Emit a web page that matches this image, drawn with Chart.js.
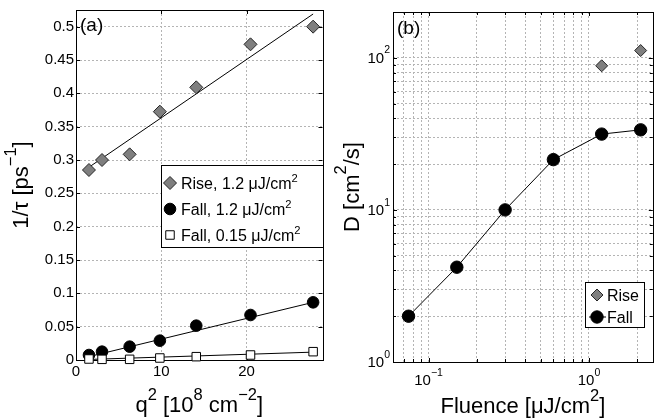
<!DOCTYPE html>
<html>
<head>
<meta charset="utf-8">
<script src="https://cdn.jsdelivr.net/npm/chart.js@4.4.0/dist/chart.umd.min.js"></script>
<style>
  html, body { margin: 0; padding: 0; background: #fff; overflow: hidden; }
  #wrap { position: relative; width: 655px; height: 420px; overflow: hidden; }
  #chartA { position: absolute; left: 0; top: 0; }
  #chartB { position: absolute; left: 330px; top: 0; }
</style>
</head>
<body>
<div id="wrap">
  <canvas id="chartA" width="330" height="420"></canvas>
  <canvas id="chartB" width="330" height="420"></canvas>
</div>
<script>
// panel (a): rates vs q^2
const q2 = [1.52, 3.05, 6.29, 9.83, 14.1, 20.46, 27.8];
const riseRate = [0.285, 0.300, 0.3085, 0.3725, 0.409, 0.4735, 0.500];
const fallRate = [0.0075, 0.0125, 0.020, 0.029, 0.0515, 0.0675, 0.0865];
const fallRateLow = [0.0015, 0.001, 0.001, 0.003, 0.005, 0.0075, 0.0125];
const fitX = [1.5, 27.8];
const riseFitY = [0.289, 0.519];
const fallFitY = [0.005, 0.0865];
const fallLowFitY = [0.0008, 0.0118];
const xTicksA = [0, 10, 20];
const yTicksA = [0, 0.05, 0.1, 0.15, 0.2, 0.25, 0.3, 0.35, 0.4, 0.45, 0.5];

// panel (b): D vs fluence
const fluenceFall = [0.075, 0.15, 0.3, 0.6, 1.2, 2.1];
const diffFall = [2.0, 4.2, 10.0, 21.4, 31.5, 33.6];
const fluenceRise = [1.2, 2.1];
const diffRise = [88.6, 111.6];
const xDecadesB = [0.1, 1];
const xDecadeLabelsB = [['10', '^−1'], ['10', '^0']];
const yDecadesB = [1, 10, 100];
const yDecadeLabelsB = [['10', '^0'], ['10', '^1'], ['10', '^2']];

const FONT = '"Liberation Sans", Arial, Helvetica, sans-serif';
const GRID = '#b4b4b4';

const zip = (xs, ys) => xs.map((x, i) => ({ x, y: ys[i] }));

// log grid: 1..9 within each decade
const logGrid = (decades, lo, hi) => [].concat(...decades.map(d =>
  [1, 2, 3, 4, 5, 6, 7, 8, 9].map(m => +(m * d).toPrecision(3)))).filter(v => v >= lo && v <= hi);

// text with "^" superscript segments
function drawRich(ctx, segs, x, y, size, align, supScale = 0.75, supRise = 0.55) {
  let w = 0;
  segs.forEach(s => {
    const sup = s[0] === '^';
    ctx.font = (sup ? size * supScale : size) + 'px ' + FONT;
    w += ctx.measureText(sup ? s.slice(1) : s).width;
  });
  let cx = align === 'center' ? x - w / 2 : align === 'right' ? x - w : x;
  ctx.textAlign = 'left';
  ctx.textBaseline = 'alphabetic';
  segs.forEach(s => {
    const sup = s[0] === '^';
    const t = sup ? s.slice(1) : s;
    ctx.font = (sup ? size * supScale : size) + 'px ' + FONT;
    ctx.fillText(t, cx, sup ? y - size * supRise : y);
    cx += ctx.measureText(t).width;
  });
}

function drawLegend(chart, box, rows) {
  const ctx = chart.ctx;
  ctx.save();
  ctx.fillStyle = '#fff';
  ctx.fillRect(box.x, box.y, box.w, box.h);
  ctx.strokeStyle = '#000';
  ctx.lineWidth = 1;
  ctx.strokeRect(box.x + 0.5, box.y + 0.5, box.w, box.h);
  rows.forEach(r => {
    const ds = chart.data.datasets[r.ds];
    if (r.line) {
      ctx.beginPath();
      ctx.moveTo(r.line[0], r.y);
      ctx.lineTo(r.line[1], r.y);
      ctx.strokeStyle = '#000';
      ctx.lineWidth = 1;
      ctx.stroke();
    }
    ctx.fillStyle = ds.backgroundColor;
    ctx.strokeStyle = ds.borderColor;
    ctx.lineWidth = ds.borderWidth;
    Chart.helpers.drawPoint(ctx, { pointStyle: ds.pointStyle, radius: ds.pointRadius, borderWidth: ds.borderWidth, rotation: 0 }, box.markX, r.y);
    ctx.fillStyle = '#000';
    drawRich(ctx, r.text, box.textX, r.y + 6, 16, 'left', 0.7, 0.45);
  });
  ctx.restore();
}

// matlab-like box with inward ticks
const frame = {
  id: 'frame',
  beforeDatasetsDraw(chart) {
    const { ctx, chartArea: a, scales } = chart;
    ctx.save();
    ctx.strokeStyle = '#000';
    ctx.lineWidth = 1;
    ctx.beginPath();
    scales.x.ticks.forEach(t => {
      const p = Math.round(scales.x.getPixelForValue(t.value)) + 0.5;
      const len = t.major === false ? 3 : 4;
      ctx.moveTo(p, a.bottom); ctx.lineTo(p, a.bottom - len);
      ctx.moveTo(p, a.top); ctx.lineTo(p, a.top + len);
    });
    scales.y.ticks.forEach(t => {
      const p = Math.round(scales.y.getPixelForValue(t.value)) + 0.5;
      const len = t.major === false ? 3 : 4;
      ctx.moveTo(a.left, p); ctx.lineTo(a.left + len, p);
      ctx.moveTo(a.right, p); ctx.lineTo(a.right - len, p);
    });
    ctx.stroke();
    ctx.strokeRect(Math.round(a.left) + 0.5, Math.round(a.top) + 0.5, Math.round(a.width), Math.round(a.height));
    ctx.restore();
  }
};

const pinAxis = (w, h) => s => {
  if (w !== undefined) s.width = w;
  if (h !== undefined) s.height = h;
  s.paddingLeft = s.paddingRight = s.paddingTop = s.paddingBottom = 0;
};

const tickFont = { family: FONT, size: 15 };

new Chart(document.getElementById('chartA'), {
  type: 'scatter',
  data: {
    datasets: [
      { data: zip(q2, fallRateLow), pointStyle: 'rect', pointRadius: 6, backgroundColor: '#fff', borderColor: '#000', borderWidth: 1, clip: false },
      { data: zip(q2, fallRate), pointStyle: 'circle', pointRadius: 5.8, backgroundColor: '#000', borderColor: '#000', borderWidth: 1, clip: false },
      { data: zip(q2, riseRate), pointStyle: 'rectRot', pointRadius: 6.5, backgroundColor: '#7f7f7f', borderColor: '#262626', borderWidth: 1, clip: false },
      { data: zip(fitX, riseFitY), showLine: true, pointRadius: 0, borderColor: '#000', borderWidth: 1 },
      { data: zip(fitX, fallFitY), showLine: true, pointRadius: 0, borderColor: '#000', borderWidth: 1 },
      { data: zip(fitX, fallLowFitY), showLine: true, pointRadius: 0, borderColor: '#000', borderWidth: 1 },
    ],
  },
  options: {
    responsive: false,
    animation: false,
    layout: { padding: { left: 0, top: 10, right: 1, bottom: 0 } },
    plugins: { legend: { display: false }, tooltip: { enabled: false } },
    scales: {
      x: {
        type: 'linear', min: 0, max: 28.9,
        afterBuildTicks: s => { s.ticks = xTicksA.map(v => ({ value: v })); },
        afterFit: pinAxis(undefined, 60),
        grid: { color: GRID, drawTicks: false },
        border: { display: false, dash: [2, 2] },
        ticks: { color: '#000', font: tickFont, padding: 3, maxRotation: 0, autoSkip: false, callback: v => String(v) },
      },
      y: {
        type: 'linear', min: 0, max: 0.525,
        afterBuildTicks: s => { s.ticks = yTicksA.map(v => ({ value: v })); },
        afterFit: pinAxis(76, undefined),
        grid: { color: GRID, drawTicks: false },
        border: { display: false, dash: [2, 2] },
        ticks: { color: '#000', font: tickFont, padding: 2, autoSkip: false, callback: v => String(v) },
      },
    },
  },
  plugins: [frame, {
    id: 'decorA',
    afterDraw(chart) {
      const { ctx, chartArea: a } = chart;
      ctx.save();
      ctx.fillStyle = '#000';
      drawRich(ctx, ['(a)'], a.left + 4, 31, 19, 'left');
      drawRich(ctx, ['q', '^2', ' [10', '^8', ' cm', '^−2', ']'], (a.left + a.right) / 2, 412, 22, 'center');
      ctx.translate(28, (a.top + a.bottom) / 2);
      ctx.rotate(-Math.PI / 2);
      drawRich(ctx, ['1/τ [ps', '^−1', ']'], 0, 0, 22, 'center');
      ctx.restore();
      drawLegend(chart, { x: 161, y: 165, w: 162, h: 82, markX: 170, textX: 181 }, [
        { ds: 2, y: 183, text: ['Rise, 1.2 μJ/cm', '^2'] },
        { ds: 1, y: 209, text: ['Fall, 1.2 μJ/cm', '^2'] },
        { ds: 0, y: 235, text: ['Fall, 0.15 μJ/cm', '^2'] },
      ]);
    },
  }],
});

const xGridB = logGrid([0.01, 0.1, 1], 0.06, 2.5);
const yGridB = logGrid([1, 10, 100], 1, 200);

new Chart(document.getElementById('chartB'), {
  type: 'scatter',
  data: {
    datasets: [
      { data: zip(fluenceRise, diffRise), pointStyle: 'rectRot', pointRadius: 6, backgroundColor: '#7f7f7f', borderColor: '#262626', borderWidth: 1, clip: false },
      { data: zip(fluenceFall, diffFall), showLine: true, pointStyle: 'circle', pointRadius: 6.2, backgroundColor: '#000', borderColor: '#000', borderWidth: 1, clip: false },
    ],
  },
  options: {
    responsive: false,
    animation: false,
    layout: { padding: { left: 0, top: 12, right: 3, bottom: 0 } },
    plugins: { legend: { display: false }, tooltip: { enabled: false } },
    scales: {
      x: {
        type: 'logarithmic', min: 0.06, max: 2.5,
        afterBuildTicks: s => { s.ticks = xGridB.map(v => ({ value: v, major: xDecadesB.includes(v) })); },
        afterFit: pinAxis(undefined, 58),
        grid: { color: GRID, drawTicks: false },
        border: { display: false, dash: [2, 2] },
        ticks: { display: false },
      },
      y: {
        type: 'logarithmic', min: 1, max: 200,
        afterBuildTicks: s => { s.ticks = yGridB.map(v => ({ value: v, major: yDecadesB.includes(v) })); },
        afterFit: pinAxis(63, undefined),
        grid: { color: GRID, drawTicks: false },
        border: { display: false, dash: [2, 2] },
        ticks: { display: false },
      },
    },
  },
  plugins: [frame, {
    id: 'decorB',
    afterDraw(chart) {
      const { ctx, chartArea: a, scales } = chart;
      ctx.save();
      ctx.fillStyle = '#000';
      xDecadesB.forEach((v, i) => {
        drawRich(ctx, xDecadeLabelsB[i], scales.x.getPixelForValue(v), a.bottom + 23, 15, 'center', 0.7, 0.62);
      });
      yDecadesB.forEach((v, i) => {
        drawRich(ctx, yDecadeLabelsB[i], a.left - 3, scales.y.getPixelForValue(v) + 5, 15, 'right', 0.7, 0.62);
      });
      drawRich(ctx, ['(b)'], a.left + 4, 34, 19, 'left');
      drawRich(ctx, ['Fluence [μJ/cm', '^2', ']'], (a.left + a.right) / 2, 413, 22, 'center');
      ctx.translate(28.5, (a.top + a.bottom) / 2);
      ctx.rotate(-Math.PI / 2);
      drawRich(ctx, ['D [cm', '^2', '/s]'], 0, 0, 22, 'center');
      ctx.restore();
      drawLegend(chart, { x: 255, y: 282, w: 59, h: 45, markX: 267, textX: 277 }, [
        { ds: 0, y: 295, text: ['Rise'] },
        { ds: 1, y: 317, text: ['Fall'], line: [259, 276] },
      ]);
    },
  }],
});
</script>
</body>
</html>
